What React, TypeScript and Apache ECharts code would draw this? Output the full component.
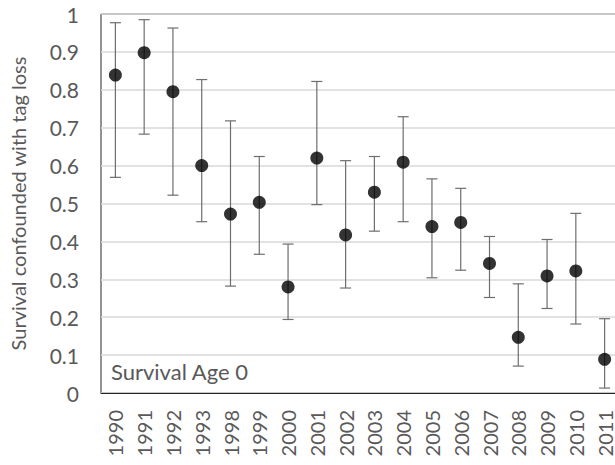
import React, { useEffect, useRef } from "react";
import * as echarts from "echarts";

const years = ["1990","1991","1992","1993","1998","1999","2000","2001","2002","2003","2004","2005","2006","2007","2008","2009","2010","2011"];
const survival = [0.839,0.898,0.795,0.600,0.472,0.503,0.280,0.620,0.417,0.530,0.609,0.439,0.450,0.342,0.147,0.309,0.322,0.089];
const upper = [0.977,0.985,0.963,0.827,0.718,0.624,0.393,0.822,0.613,0.624,0.729,0.565,0.540,0.413,0.288,0.405,0.474,0.196];
const lower = [0.569,0.683,0.522,0.452,0.282,0.366,0.194,0.497,0.277,0.427,0.452,0.304,0.324,0.252,0.071,0.223,0.182,0.013];
const yTitle = "Survival confounded with tag loss";
const panelLabel = "Survival Age 0";

const FONT = "Lato";
const TEXT = "#595959";

export default function App() {
  const ref = useRef<HTMLDivElement>(null);
  useEffect(() => {
    if (!ref.current) return;
    const chart = echarts.init(ref.current, undefined, { renderer: "svg" });
    const errData = years.map((_, i) => [i, lower[i], upper[i]]);
    chart.setOption({
      animation: false,
      backgroundColor: "#fff",
      textStyle: { fontFamily: FONT },
      grid: { left: 101, right: 1, top: 14, bottom: 72, show: true, borderColor: "#262626", borderWidth: 1, backgroundColor: "transparent" },
      xAxis: {
        type: "category",
        data: years,
        axisTick: { show: false },
        axisLine: { show: true, lineStyle: { color: "#262626", width: 1 } },
        axisLabel: { rotate: 90, color: TEXT, fontSize: 20, fontFamily: FONT, margin: 17 },
        splitLine: { show: false },
      },
      yAxis: {
        type: "value",
        min: 0,
        max: 1,
        interval: 0.1,
        name: yTitle,
        nameLocation: "middle",
        nameGap: 73,
        nameTextStyle: { color: TEXT, fontSize: 20, fontFamily: FONT },
        axisLine: { show: false },
        axisTick: { show: false },
        axisLabel: { color: TEXT, fontSize: 21, fontFamily: FONT, margin: 22, formatter: (v: number) => String(Math.round(v * 10) / 10) },
        splitLine: { show: true, lineStyle: { color: "#d9d9d9", width: 1.5 } },
      },
      graphic: [
        { type: "text", left: 111, top: 360, style: { text: panelLabel, fill: TEXT, font: `22px ${FONT}` } },
      ],
      series: [
        {
          type: "custom",
          data: errData,
          renderItem: (params: any, api: any) => {
            const x = api.value(0);
            const lo = api.coord([x, api.value(1)]);
            const hi = api.coord([x, api.value(2)]);
            const hw = 5.5;
            const style = { stroke: "#6e6e6e", lineWidth: 1.2 };
            return {
              type: "group",
              children: [
                { type: "line", shape: { x1: lo[0], y1: lo[1], x2: hi[0], y2: hi[1] }, style },
                { type: "line", shape: { x1: hi[0] - hw, y1: hi[1], x2: hi[0] + hw, y2: hi[1] }, style },
                { type: "line", shape: { x1: lo[0] - hw, y1: lo[1], x2: lo[0] + hw, y2: lo[1] }, style },
              ],
            };
          },
          z: 2,
        },
        {
          type: "scatter",
          data: survival,
          symbol: "circle",
          symbolSize: 13,
          itemStyle: { color: "#000" },
          z: 3,
        },
      ],
    });
    return () => chart.dispose();
  }, []);
  return <div ref={ref} style={{ position: "fixed", left: 0, top: 0, width: 620, height: 465 }} />;
}
